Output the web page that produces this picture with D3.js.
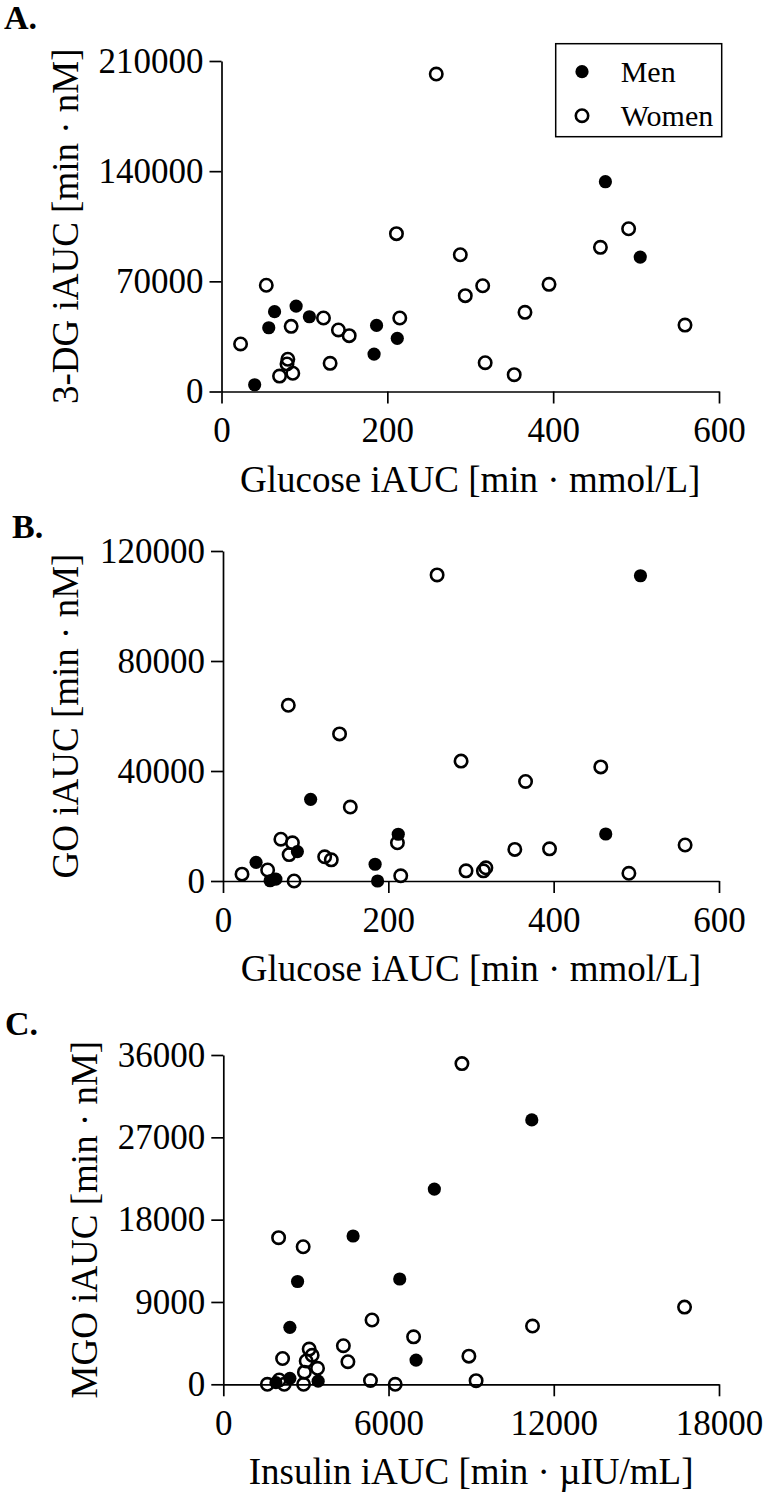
<!DOCTYPE html>
<html>
<head>
<meta charset="utf-8">
<script src="https://cdn.jsdelivr.net/npm/d3@7"></script>
<style>
  body { margin:0; background:#fff; }
  svg text { font-family:"Liberation Serif","Times New Roman",serif; fill:#000; }
  .axis path, .axis line { stroke:#000; stroke-width:1.7px; }
  .axis text { font-size:35px; }
</style>
</head>
<body>
<svg id="chart" width="768" height="1498"></svg>
<script>
// ---------------- data ----------------
var glucoseMen   = [40, 57, 64, 90, 106, 184, 187, 212, 463, 505];
var dg3Men       = [4300, 40500, 50700, 54300, 47500, 23800, 42000, 33800, 133300, 85400];
var goMen        = [6800, 100, 700, 10700, 29700, 6100, 0, 17000, 17100, 111000];

var glucoseWomen = [23, 54, 70, 79, 80, 84, 86, 123, 131, 141, 154, 211, 215, 259, 288, 294, 315, 318, 353, 366, 395, 457, 491, 559];
var dg3Women     = [30200, 67500, 9800, 17500, 20500, 41400, 11600, 46700, 17900, 39100, 35500, 100300, 46700, 201700, 86900, 60900, 67200, 18300, 10700, 50300, 68100, 91600, 103400, 42200];
var goWomen      = [2500, 4000, 15200, 63900, 9600, 13900, 0, 8800, 7700, 53500, 26900, 13900, 1900, 111300, 43600, 3700, 3700, 4800, 11500, 36200, 11700, 41500, 2800, 13100];

var insulinMen   = [1911, 2418, 2418, 2697, 3444, 4713, 6406, 7000, 7664, 11202];
var mgoMen       = [180, 650, 6230, 11240, 340, 16210, 11510, 2650, 21340, 28900];
var insulinWomen = [1600, 2008, 2030, 2153, 2212, 2900, 2915, 2945, 3010, 3118, 3227, 3422, 4360, 4525, 5344, 5400, 6243, 6910, 8665, 8918, 9180, 11228, 16749];
var mgoWomen     = [0, 16030, 470, 2820, 0, 15040, 0, 1330, 2550, 3850, 3170, 1750, 4220, 2470, 420, 7030, 0, 5190, 35060, 3080, 400, 6370, 8440];

var glucoseTicks = [0, 200, 400, 600];
var insulinTicks = [0, 6000, 12000, 18000];
var dg3Ticks = [0, 70000, 140000, 210000];
var goTicks  = [0, 40000, 80000, 120000];
var mgoTicks = [0, 9000, 18000, 27000, 36000];

var legendLabels = ["Men", "Women"];

var svg = d3.select("#chart");

// ----------------------------------------------------------------
// one scatter panel
// ----------------------------------------------------------------
function drawPanel(p){
  var x = d3.scaleLinear().domain([p.xTicks[0], p.xTicks[p.xTicks.length-1]]).range([p.left, 719]);
  var y = d3.scaleLinear().domain([p.yTicks[0], p.yTicks[p.yTicks.length-1]]).range([p.bottom, p.top]);
  var g = svg.append("g");

  g.append("g").attr("class","axis")
    .attr("transform","translate(0,"+p.bottom+")")
    .call(d3.axisBottom(x).tickValues(p.xTicks).tickFormat(d3.format("d")).tickSize(12).tickSizeOuter(0).tickPadding(14))
    .selectAll("text").attr("dy","0.71em");

  g.append("g").attr("class","axis")
    .attr("transform","translate("+p.left+",0)")
    .call(d3.axisLeft(y).tickValues(p.yTicks).tickFormat(d3.format("d")).tickSize(12).tickSizeOuter(0).tickPadding(6));

  g.selectAll(".axis text").style("font-family","'Liberation Serif','Times New Roman',serif");

  // axis titles
  g.append("text").attr("x",(p.left+719)/2).attr("y",p.bottom+100)
    .attr("text-anchor","middle").style("font-size","37px").text(p.xTitle);
  g.append("text").attr("transform","translate("+p.yTitleX+","+((p.top+p.bottom)/2)+") rotate(-90)")
    .attr("text-anchor","middle").style("font-size","37px").text(p.yTitle);

  // panel letter
  g.append("text").attr("x",p.labelX).attr("y",p.labelY)
    .style("font-size","34px").style("font-weight","bold").text(p.label);

  // men: filled, women: open
  g.selectAll(".men").data(d3.zip(p.xMen,p.yMen)).join("circle")
    .attr("cx",function(d){return x(d[0]);}).attr("cy",function(d){return y(d[1]);})
    .attr("r",6.6).attr("fill","#000");
  g.selectAll(".women").data(d3.zip(p.xWomen,p.yWomen)).join("circle")
    .attr("cx",function(d){return x(d[0]);}).attr("cy",function(d){return y(d[1]);})
    .attr("r",6.2).attr("fill","none").attr("stroke","#000").attr("stroke-width",2.6);
}

drawPanel({label:"A.", labelX:4, labelY:29, left:221.5, top:61, bottom:391.5,
  xTicks:glucoseTicks, yTicks:dg3Ticks, xTitle:"Glucose iAUC [min \u00b7 mmol/L]", yTitle:"3-DG iAUC [min \u00b7 nM]", yTitleX:78,
  xMen:glucoseMen, yMen:dg3Men, xWomen:glucoseWomen, yWomen:dg3Women});

drawPanel({label:"B.", labelX:12, labelY:538, left:223, top:551, bottom:881,
  xTicks:glucoseTicks, yTicks:goTicks, xTitle:"Glucose iAUC [min \u00b7 mmol/L]", yTitle:"GO iAUC [min \u00b7 nM]", yTitleX:78,
  xMen:glucoseMen, yMen:goMen, xWomen:glucoseWomen, yWomen:goWomen});

drawPanel({label:"C.", labelX:5, labelY:1035, left:223.3, top:1055, bottom:1384.3,
  xTicks:insulinTicks, yTicks:mgoTicks, xTitle:"Insulin iAUC [min \u00b7 \u00b5IU/mL]", yTitle:"MGO iAUC [min \u00b7 nM]", yTitleX:97,
  xMen:insulinMen, yMen:mgoMen, xWomen:insulinWomen, yWomen:mgoWomen});

// ---------------- legend (panel A) ----------------
var leg = svg.append("g");
leg.append("rect").attr("x",555.7).attr("y",43.7).attr("width",166).attr("height",93)
  .attr("fill","none").attr("stroke","#000").attr("stroke-width",1.5);
legendLabels.forEach(function(t,i){
  var cy = 71.7 + i*44;
  if (i==0) leg.append("circle").attr("cx",582).attr("cy",cy).attr("r",6.6).attr("fill","#000");
  else leg.append("circle").attr("cx",582).attr("cy",cy).attr("r",6.2).attr("fill","none").attr("stroke","#000").attr("stroke-width",2.6);
  leg.append("text").attr("x",620.7).attr("y",cy+10.5).style("font-size","30px").text(t);
});
</script>
</body>
</html>
